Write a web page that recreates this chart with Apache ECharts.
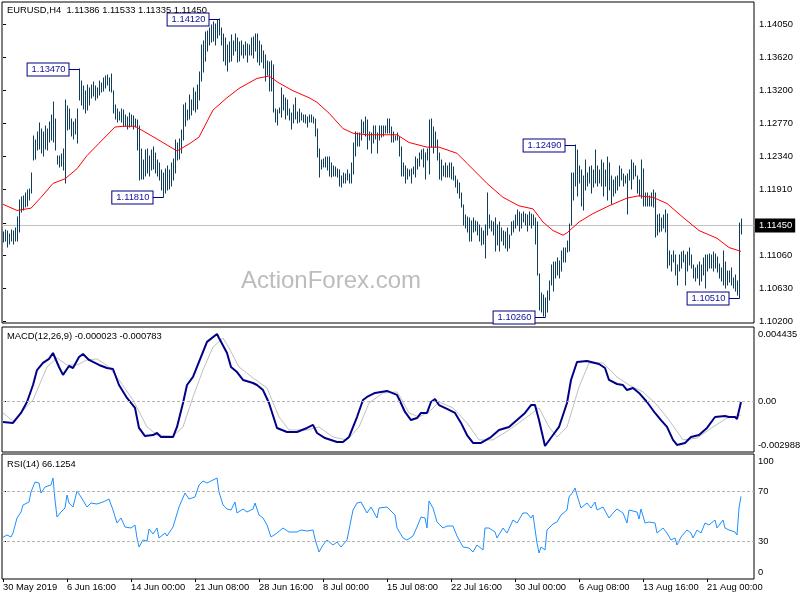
<!DOCTYPE html>
<html><head><meta charset="utf-8">
<script src="https://cdn.jsdelivr.net/npm/echarts@6/dist/echarts.min.js"></script>
<style>html,body{margin:0;padding:0;background:#fff}#c{width:800px;height:600px}</style>
</head><body><div id="c"></div>
<script>
// ---------- DATA ----------
const symbolTitle = 'EURUSD,H4  1.11386 1.11533 1.11335 1.11450';
const macdTitle = 'MACD(12,26,9) -0.000023 -0.000783';
const rsiTitle = 'RSI(14) 66.1254';
const watermark = 'ActionForex.com';
const dateLabels = ['30 May 2019','6 Jun 16:00','14 Jun 00:00','21 Jun 08:00','28 Jun 16:00','8 Jul 00:00','15 Jul 08:00','22 Jul 16:00','30 Jul 00:00','6 Aug 08:00','13 Aug 16:00','21 Aug 00:00'];
const barsPerDateLabel = 32;
const priceTicks = [1.1020,1.1063,1.1106,1.1148,1.1191,1.1234,1.1277,1.1320,1.1362,1.1405];
const priceTickLabelsShown = [1.1020,1.1063,1.1106,1.1191,1.1234,1.1277,1.1320,1.1362,1.1405];
const lastPrice = 1.1145;
const macdRange = [-0.002988, 0.004435];
const rsiTicks = [0,30,70,100];
const rsiLevels = [30,70];
// H4 bar highs / lows
const barHigh = [1.1136,1.1139,1.1138,1.1134,1.1139,1.1137,1.1141,1.1156,1.1178,1.1182,1.1183,1.1187,1.1190,1.1192,1.1213,1.1261,1.1255,1.1265,1.1277,1.1270,1.1265,1.1273,1.1270,1.1278,1.1287,1.1304,1.1283,1.1235,1.1234,1.1237,1.1243,1.1307,1.1299,1.1296,1.1283,1.1278,1.1282,1.1296,1.1347,1.1332,1.1325,1.1319,1.1326,1.1322,1.1326,1.1330,1.1325,1.1322,1.1332,1.1329,1.1335,1.1338,1.1340,1.1335,1.1341,1.1319,1.1300,1.1296,1.1291,1.1296,1.1294,1.1288,1.1285,1.1290,1.1287,1.1286,1.1283,1.1281,1.1273,1.1244,1.1229,1.1242,1.1244,1.1235,1.1242,1.1246,1.1239,1.1229,1.1225,1.1216,1.1213,1.1218,1.1222,1.1216,1.1226,1.1231,1.1255,1.1251,1.1257,1.1268,1.1300,1.1303,1.1294,1.1313,1.1307,1.1322,1.1317,1.1326,1.1343,1.1378,1.1384,1.1395,1.1397,1.1400,1.1404,1.1408,1.1405,1.1410,1.1412,1.1400,1.1393,1.1387,1.1378,1.1382,1.1391,1.1384,1.1392,1.1387,1.1382,1.1384,1.1378,1.1382,1.1379,1.1378,1.1387,1.1389,1.1392,1.1393,1.1384,1.1378,1.1371,1.1365,1.1358,1.1356,1.1358,1.1352,1.1296,1.1294,1.1297,1.1322,1.1313,1.1310,1.1307,1.1296,1.1290,1.1300,1.1310,1.1291,1.1296,1.1290,1.1287,1.1287,1.1285,1.1287,1.1287,1.1285,1.1283,1.1270,1.1244,1.1229,1.1231,1.1233,1.1233,1.1233,1.1225,1.1222,1.1220,1.1218,1.1216,1.1209,1.1213,1.1211,1.1216,1.1211,1.1226,1.1251,1.1265,1.1264,1.1264,1.1281,1.1278,1.1285,1.1281,1.1265,1.1264,1.1274,1.1274,1.1264,1.1274,1.1274,1.1274,1.1274,1.1283,1.1283,1.1272,1.1265,1.1261,1.1264,1.1259,1.1246,1.1225,1.1222,1.1218,1.1216,1.1218,1.1220,1.1233,1.1231,1.1239,1.1242,1.1244,1.1238,1.1244,1.1281,1.1283,1.1272,1.1265,1.1255,1.1239,1.1229,1.1222,1.1225,1.1222,1.1225,1.1225,1.1220,1.1209,1.1203,1.1199,1.1186,1.1171,1.1158,1.1155,1.1154,1.1151,1.1154,1.1151,1.1149,1.1145,1.1141,1.1138,1.1145,1.1187,1.1158,1.1151,1.1149,1.1154,1.1145,1.1149,1.1141,1.1138,1.1136,1.1141,1.1132,1.1149,1.1151,1.1158,1.1164,1.1162,1.1160,1.1162,1.1160,1.1158,1.1162,1.1160,1.1158,1.1154,1.1149,1.1082,1.1057,1.1054,1.1051,1.1060,1.1073,1.1093,1.1097,1.1097,1.1102,1.1099,1.1112,1.1116,1.1115,1.1125,1.1147,1.1213,1.1213,1.1249,1.1242,1.1222,1.1216,1.1209,1.1229,1.1213,1.1220,1.1222,1.1216,1.1242,1.1222,1.1216,1.1229,1.1226,1.1216,1.1233,1.1225,1.1209,1.1203,1.1207,1.1209,1.1222,1.1218,1.1211,1.1209,1.1211,1.1216,1.1229,1.1225,1.1222,1.1209,1.1203,1.1229,1.1218,1.1186,1.1186,1.1183,1.1186,1.1190,1.1186,1.1158,1.1160,1.1154,1.1158,1.1164,1.1160,1.1112,1.1106,1.1112,1.1106,1.1093,1.1106,1.1110,1.1112,1.1106,1.1110,1.1115,1.1106,1.1093,1.1089,1.1093,1.1097,1.1093,1.1102,1.1106,1.1106,1.1108,1.1106,1.1110,1.1108,1.1104,1.1095,1.1089,1.1112,1.1097,1.1086,1.1086,1.1089,1.1077,1.1080,1.1073,1.1148,1.11533];
const barLow = [1.1123,1.1124,1.1117,1.1120,1.1125,1.1121,1.1125,1.1125,1.1136,1.1162,1.1164,1.1169,1.1170,1.1177,1.1187,1.1229,1.1231,1.1242,1.1244,1.1239,1.1235,1.1244,1.1242,1.1252,1.1255,1.1252,1.1242,1.1224,1.1220,1.1221,1.1216,1.1200,1.1268,1.1270,1.1261,1.1257,1.1263,1.1251,1.1307,1.1301,1.1296,1.1290,1.1294,1.1300,1.1309,1.1312,1.1307,1.1309,1.1314,1.1317,1.1319,1.1322,1.1326,1.1319,1.1317,1.1290,1.1283,1.1278,1.1281,1.1278,1.1274,1.1273,1.1270,1.1272,1.1274,1.1270,1.1272,1.1242,1.1203,1.1205,1.1205,1.1209,1.1213,1.1209,1.1216,1.1218,1.1213,1.1209,1.1203,1.1190,1.1181,1.1187,1.1190,1.1192,1.1196,1.1203,1.1213,1.1229,1.1231,1.1239,1.1255,1.1274,1.1281,1.1283,1.1287,1.1294,1.1291,1.1296,1.1307,1.1332,1.1343,1.1358,1.1371,1.1378,1.1382,1.1384,1.1378,1.1387,1.1391,1.1378,1.1358,1.1352,1.1345,1.1356,1.1358,1.1365,1.1371,1.1356,1.1358,1.1365,1.1361,1.1365,1.1356,1.1365,1.1365,1.1361,1.1371,1.1356,1.1352,1.1356,1.1348,1.1332,1.1339,1.1319,1.1319,1.1291,1.1278,1.1275,1.1290,1.1285,1.1294,1.1283,1.1287,1.1281,1.1270,1.1277,1.1283,1.1277,1.1278,1.1281,1.1278,1.1277,1.1272,1.1278,1.1278,1.1277,1.1261,1.1233,1.1207,1.1218,1.1220,1.1220,1.1216,1.1209,1.1207,1.1209,1.1209,1.1207,1.1196,1.1194,1.1200,1.1200,1.1203,1.1200,1.1200,1.1211,1.1235,1.1248,1.1248,1.1255,1.1264,1.1261,1.1244,1.1255,1.1238,1.1251,1.1257,1.1238,1.1255,1.1259,1.1261,1.1264,1.1264,1.1264,1.1252,1.1252,1.1255,1.1255,1.1235,1.1209,1.1209,1.1200,1.1205,1.1209,1.1199,1.1211,1.1207,1.1218,1.1222,1.1231,1.1220,1.1205,1.1229,1.1211,1.1246,1.1238,1.1246,1.1229,1.1205,1.1203,1.1209,1.1207,1.1207,1.1207,1.1205,1.1203,1.1194,1.1187,1.1180,1.1168,1.1145,1.1141,1.1136,1.1125,1.1125,1.1136,1.1138,1.1132,1.1125,1.1119,1.1121,1.1102,1.1132,1.1141,1.1138,1.1132,1.1112,1.1119,1.1112,1.1125,1.1119,1.1115,1.1112,1.1116,1.1132,1.1136,1.1141,1.1145,1.1138,1.1141,1.1149,1.1145,1.1138,1.1145,1.1141,1.1145,1.1121,1.1080,1.1035,1.1032,1.1028,1.1026,1.1032,1.1048,1.1067,1.1060,1.1076,1.1080,1.1076,1.1086,1.1097,1.1097,1.1110,1.1112,1.1145,1.1177,1.1196,1.1183,1.1200,1.1170,1.1164,1.1190,1.1196,1.1199,1.1187,1.1194,1.1200,1.1196,1.1199,1.1196,1.1183,1.1196,1.1177,1.1190,1.1173,1.1183,1.1187,1.1190,1.1196,1.1203,1.1196,1.1200,1.1160,1.1203,1.1192,1.1205,1.1209,1.1186,1.1183,1.1180,1.1170,1.1170,1.1170,1.1170,1.1170,1.1168,1.1129,1.1132,1.1136,1.1138,1.1141,1.1136,1.1090,1.1093,1.1086,1.1097,1.1080,1.1067,1.1086,1.1089,1.1097,1.1067,1.1086,1.1093,1.1089,1.1076,1.1073,1.1076,1.1067,1.1073,1.1080,1.1064,1.1086,1.1089,1.1090,1.1086,1.1089,1.1084,1.1076,1.1073,1.1067,1.1063,1.1067,1.1071,1.1067,1.1063,1.1060,1.1054,1.1051,1.11335];
// moving average (red), [bar index, price]
const maLine = [[0,1.1172],[7,1.1164],[14,1.1167],[19,1.1181],[25,1.1199],[31,1.1205],[37,1.1218],[42,1.1235],[48,1.1251],[56,1.1272],[60,1.1273],[66,1.1273],[72,1.1264],[78,1.1255],[87,1.1241],[93,1.1250],[98,1.1259],[105,1.1294],[112,1.1310],[118,1.1322],[127,1.1335],[133,1.1338],[138,1.1329],[145,1.1319],[153,1.1310],[157,1.1304],[163,1.1290],[170,1.1270],[175,1.1264],[182,1.1262],[192,1.1262],[197,1.1262],[203,1.1252],[212,1.1246],[218,1.1246],[227,1.1238],[232,1.1225],[242,1.1199],[250,1.1181],[258,1.1170],[265,1.1166],[270,1.1149],[275,1.1138],[280,1.1132],[282,1.1135],[288,1.1149],[295,1.1160],[303,1.1170],[312,1.1180],[318,1.1183],[325,1.1181],[332,1.1173],[340,1.1155],[348,1.1138],[357,1.1128],[363,1.1116],[369,1.1111]];
// extreme price labels [bar index, price]
const extremeLabels = [[38,1.1347],[108,1.1412],[80,1.1181],[286,1.1249],[271,1.1026],[368,1.1051]];
// MACD main & signal [bar index, value]
const macdMain = [[0,-0.00121],[5,-0.00126],[9,-0.00067],[12,-0.00002],[15,0.00099],[17,0.00188],[20,0.0023],[23,0.00254],[25,0.00289],[28,0.00206],[30,0.00159],[33,0.00212],[35,0.002],[38,0.00265],[40,0.00283],[43,0.00248],[48,0.00218],[52,0.002],[55,0.00194],[58,0.00099],[62,0.00022],[66,-0.00037],[68,-0.00156],[71,-0.00204],[75,-0.00198],[77,-0.00186],[79,-0.0021],[85,-0.0021],[87,-0.0015],[90,-0.00008],[92,0.00099],[95,0.00147],[98,0.00236],[102,0.00355],[107,0.00402],[108,0.00378],[112,0.00289],[114,0.00206],[117,0.00176],[120,0.00129],[125,0.00111],[127,0.00099],[130,0.00069],[133,-0.00008],[137,-0.00156],[142,-0.0018],[147,-0.0018],[152,-0.00156],[155,-0.00138],[157,-0.00186],[161,-0.00216],[167,-0.00239],[170,-0.00239],[173,-0.0021],[177,-0.00091],[180,0.0001],[182,0.00028],[186,0.00052],[192,0.00064],[197,0.0004],[198,0.00016],[201,-0.00061],[204,-0.00109],[207,-0.00097],[209,-0.00067],[212,-0.00067],[214,-0.00002],[216,0.00016],[218,-0.0002],[222,-0.00043],[226,-0.00067],[229,-0.00126],[232,-0.00198],[235,-0.00245],[239,-0.00245],[244,-0.0021],[248,-0.00168],[253,-0.0015],[257,-0.00109],[261,-0.00067],[264,-0.0002],[266,-0.0002],[268,-0.00109],[271,-0.00263],[275,-0.00198],[278,-0.0015],[282,-0.00008],[284,0.00129],[287,0.00236],[292,0.00242],[293,0.00248],[298,0.00224],[301,0.002],[303,0.00129],[307,0.00105],[310,0.00099],[312,0.00069],[315,0.00081],[318,0.00052],[322,-0.00002],[326,-0.00067],[329,-0.00109],[332,-0.0015],[335,-0.00227],[337,-0.00257],[341,-0.00245],[344,-0.0021],[348,-0.00198],[352,-0.00156],[356,-0.00091],[361,-0.00085],[363,-0.00091],[366,-0.00091],[367,-0.00103],[369,-0.000023]];
const macdSignal = [[0,-0.00067],[5,-0.00115],[15,0.0001],[22,0.00206],[27,0.0026],[32,0.00218],[37,0.00218],[42,0.00248],[47,0.00254],[53,0.00206],[58,0.00129],[65,0.0001],[72,-0.0015],[77,-0.00198],[85,-0.00204],[90,-0.0015],[95,0.00028],[100,0.00188],[105,0.00325],[110,0.00378],[113,0.00319],[118,0.00206],[125,0.00141],[132,0.00081],[138,-0.00091],[143,-0.00168],[152,-0.00168],[158,-0.0015],[165,-0.0021],[172,-0.00227],[178,-0.0015],[183,-0.00008],[190,0.00052],[197,0.00058],[198,0.0004],[203,-0.00067],[208,-0.00091],[213,-0.00061],[218,-0.00002],[225,-0.00037],[232,-0.00126],[238,-0.00227],[245,-0.00227],[253,-0.00168],[262,-0.00091],[268,-0.00037],[273,-0.0015],[277,-0.0021],[282,-0.0015],[288,0.00087],[293,0.0023],[300,0.0023],[307,0.00147],[313,0.00099],[320,0.00058],[327,-0.0002],[333,-0.00109],[340,-0.00227],[347,-0.00216],[355,-0.0015],[362,-0.00097],[367,-0.00085],[369,-0.000783]];
// RSI(14) [bar index, value]
const rsiLine = [[0,33.4],[2,35.2],[4,33.6],[5,36.8],[7,48.8],[9,53.6],[10,59.2],[13,61.6],[14,69.6],[16,77.6],[18,76.8],[19,68.8],[21,73.6],[24,75.2],[25,80.8],[26,63.2],[27,49.6],[29,53.6],[31,56.8],[32,67.2],[33,60.8],[35,57.6],[37,70.4],[39,65.6],[42,57.6],[44,60.8],[47,60],[50,61.6],[53,64],[55,55.2],[57,44.8],[59,48.8],[61,41.6],[64,40.8],[66,43.2],[67,32.8],[68,25.6],[70,31.2],[72,30.4],[73,40],[75,36],[77,40.8],[78,32.8],[81,36.8],[82,34.4],[85,41.6],[88,57.6],[91,68.8],[93,64],[96,65.6],[98,75.2],[100,78.4],[102,76.8],[107,80.8],[108,69.6],[110,59.2],[112,56],[114,55.2],[116,61.6],[117,52.8],[120,56],[122,53.6],[125,56],[126,60.8],[128,51.2],[130,48.8],[132,43.2],[134,33.6],[137,36.8],[140,40.8],[143,37.6],[147,37.6],[149,39.2],[152,38.4],[155,39.2],[156,32],[158,21.6],[160,27.2],[162,31.2],[165,27.2],[167,29.6],[169,25.6],[172,31.2],[173,32.8],[175,55.2],[177,60.8],[179,61.6],[182,52.8],[184,57.6],[187,48.8],[188,56.8],[192,57.6],[196,51.2],[197,40.8],[198,39.2],[200,32.8],[202,31.2],[205,34.4],[207,41.6],[209,49.6],[211,48.8],[212,40.8],[213,62.4],[215,56.8],[217,45.6],[220,40.8],[222,42.4],[225,42.4],[227,34.4],[230,25.6],[233,24.8],[235,21.6],[237,27.2],[240,23.2],[241,40.8],[243,40.8],[246,37.6],[247,32.8],[250,40.8],[252,36.8],[255,47.2],[257,44.8],[260,52.8],[262,52.8],[264,48.8],[265,51.2],[267,28.8],[268,20.8],[269,25.6],[271,23.2],[272,39.2],[275,44],[277,45.6],[279,51.2],[282,55.2],[283,65.6],[285,69.6],[286,72.8],[287,67.2],[289,56.8],[292,60.8],[294,56.8],[296,61.6],[297,55.2],[300,57.6],[303,48.8],[305,52.8],[307,56],[310,52.8],[312,44.8],[313,55.2],[317,53.6],[318,48],[319,56],[321,44.8],[323,45.6],[326,44.8],[327,36.8],[330,40.8],[332,36.8],[334,31.2],[336,32.8],[337,27.2],[339,33.6],[342,39.2],[344,36.8],[345,32.8],[347,39.2],[349,36.8],[351,44.8],[353,43.2],[356,47.2],[357,40.8],[360,47.2],[361,40.8],[363,39.2],[366,37.6],[367,35.2],[368,56.8],[369,66.1254]];

// ---------- STYLE ----------
const FONT = '"Liberation Sans", Arial, sans-serif';
const FS = 9.4;
const barColor = '#0f3d5c';
const xMin = -0.5, xMax = 375.5;
const gridL = 2, gridW = 752;

const chart = echarts.init(document.getElementById('c'), null, {renderer: 'canvas'});

function xAxisFor(gi, showLabels) {
  const ax = {
    type: 'value', gridIndex: gi, min: xMin, max: xMax,
    axisLine: {show: false}, splitLine: {show: false},
    axisTick: {show: false}, axisLabel: {show: false}
  };
  if (showLabels) {
    const vals = dateLabels.map((_, k) => k * barsPerDateLabel);
    ax.axisTick = {show: true, customValues: vals, length: 3, lineStyle: {color: '#000'}};
    ax.axisLabel = {show: true, customValues: vals, align: 'left', margin: 4, color: '#000',
      fontSize: FS, fontFamily: FONT,
      formatter: v => dateLabels[Math.round(v / barsPerDateLabel)] || ''};
  }
  return ax;
}

const edgeRich = {
  t: {padding: [14, 0, 0, 0], fontSize: FS, fontFamily: FONT, color: '#000'},
  b: {padding: [0, 0, 14, 0], fontSize: FS, fontFamily: FONT, color: '#000'},
  z: {fontSize: FS, fontFamily: FONT, color: '#000', textShadowColor: '#000', textShadowOffsetX: 0.8, textShadowBlur: 0},
  z0: {fontSize: FS, fontFamily: FONT, color: '#000'}
};

const gridBase = {left: gridL, width: gridW, show: true, borderColor: '#000', borderWidth: 1, containLabel: false, outerBoundsMode: 'none'};

const option = {
  animation: false,
  backgroundColor: '#fff',
  grid: [
    Object.assign({top: 2, height: 321}, gridBase),
    Object.assign({top: 327, height: 125}, gridBase),
    Object.assign({top: 454, height: 125}, gridBase)
  ],
  xAxis: [xAxisFor(0, false), xAxisFor(1, false), xAxisFor(2, true)],
  yAxis: [
    {type: 'value', gridIndex: 0, position: 'right', min: 1.10183, max: 1.14339,
      axisLine: {show: false}, splitLine: {show: false},
      axisTick: {show: true, customValues: priceTicks, length: 3, lineStyle: {color: '#000'}},
      axisLabel: {show: true, customValues: priceTickLabelsShown, margin: 5, color: '#000', fontSize: FS, fontFamily: FONT,
        formatter: v => v.toFixed(5)}},
    {type: 'value', gridIndex: 1, position: 'right', min: macdRange[0], max: macdRange[1],
      axisLine: {show: false}, splitLine: {show: false},
      axisTick: {show: true, customValues: [0], length: 3, lineStyle: {color: '#000'}},
      axisLabel: {show: true, customValues: [macdRange[0], 0, macdRange[1]], margin: 4, rich: edgeRich,
        formatter: v => Math.abs(v - macdRange[1]) < 1e-9 ? '{t|' + macdRange[1].toFixed(6) + '}'
          : Math.abs(v - macdRange[0]) < 1e-9 ? '{b|' + macdRange[0].toFixed(6) + '}' : '{z|0.00}'}},
    {type: 'value', gridIndex: 2, position: 'right', min: 0, max: 100,
      axisLine: {show: false}, splitLine: {show: false},
      axisTick: {show: true, customValues: rsiLevels, length: 3, lineStyle: {color: '#000'}},
      axisLabel: {show: true, customValues: rsiTicks, margin: 4, rich: edgeRich,
        formatter: v => v === 100 ? '{t|100}' : v === 0 ? '{b|0}' : '{z0|' + v + '}'}}
  ],
  graphic: [
    {type: 'text', x: 241, y: 281, z: 0, silent: true,
      style: {text: watermark, font: '24px ' + FONT, fill: '#bcbcbc', align: 'left', verticalAlign: 'middle'}},
    {type: 'text', x: 7, y: 10, z: 10, silent: true,
      style: {text: symbolTitle, font: FS + 'px ' + FONT, fill: '#000', align: 'left', verticalAlign: 'middle'}},
    {type: 'text', x: 7, y: 336, z: 10, silent: true,
      style: {text: macdTitle, font: FS + 'px ' + FONT, fill: '#000', align: 'left', verticalAlign: 'middle'}},
    {type: 'text', x: 7, y: 464, z: 10, silent: true,
      style: {text: rsiTitle, font: FS + 'px ' + FONT, fill: '#000', align: 'left', verticalAlign: 'middle'}}
  ],
  series: [
    // last price line + box
    {type: 'custom', xAxisIndex: 0, yAxisIndex: 0, z: 1, silent: true, clip: false,
      data: [[0, lastPrice]],
      renderItem: (params, api) => {
        const cs = params.coordSys;
        const p = api.coord([api.value(0), api.value(1)]);
        const y = Math.round(p[1]) + 0.5;
        return {type: 'group', children: [
          {type: 'line', shape: {x1: cs.x, y1: y, x2: cs.x + cs.width, y2: y}, style: {stroke: '#c0c0c0', lineWidth: 1}},
          {type: 'text', x: cs.x + cs.width + 1, y: y, z2: 10, style: {text: api.value(1).toFixed(5), align: 'left', verticalAlign: 'middle',
            fill: '#fff', font: FS + 'px ' + FONT, backgroundColor: '#000', padding: [3, 3, 2, 4]}}
        ]};
      }},
    // OHLC bars (high-low)
    {type: 'custom', xAxisIndex: 0, yAxisIndex: 0, z: 2, silent: true,
      data: barHigh.map((h, i) => [i, barLow[i], h]),
      encode: {x: 0, y: [1, 2]},
      renderItem: (params, api) => {
        const lo = api.coord([api.value(0), api.value(1)]);
        const hi = api.coord([api.value(0), api.value(2)]);
        const x = Math.round(lo[0]) + 0.5;
        return {type: 'line', shape: {x1: x, y1: Math.round(lo[1]) + 0.5, x2: x, y2: Math.round(hi[1]) - 0.5},
          style: {stroke: barColor, lineWidth: 1}};
      }},
    // moving average
    {type: 'line', xAxisIndex: 0, yAxisIndex: 0, z: 3, data: maLine, showSymbol: false, silent: true,
      lineStyle: {color: '#ff0000', width: 1}},
    // extreme labels
    {type: 'custom', xAxisIndex: 0, yAxisIndex: 0, z: 4, silent: true, clip: false, data: extremeLabels,
      renderItem: (params, api) => {
        const p = api.coord([api.value(0), api.value(1)]);
        const x = Math.round(p[0]) + 0.5, y = Math.round(p[1]) + 0.5;
        return {type: 'group', children: [
          {type: 'line', shape: {x1: x - 11, y1: y, x2: x, y2: y}, style: {stroke: '#000080', lineWidth: 1}},
          {type: 'text', x: x - 11, y: y, style: {text: api.value(1).toFixed(5), align: 'right', verticalAlign: 'middle',
            fill: '#10109a', font: FS + 'px ' + FONT, backgroundColor: '#fff', borderColor: '#000080', borderWidth: 1,
            padding: [2, 3, 1, 4]}}
        ]};
      }},
    // MACD
    {type: 'line', xAxisIndex: 1, yAxisIndex: 1, z: 3, data: macdMain, showSymbol: false, silent: true,
      lineStyle: {color: '#000088', width: 2},
      markLine: {silent: true, symbol: ['none', 'none'], animation: false, data: [{yAxis: 0}],
        lineStyle: {color: '#b4b4b4', type: [3, 2], width: 1}, label: {show: false}}},
    {type: 'line', xAxisIndex: 1, yAxisIndex: 1, z: 2, data: macdSignal, showSymbol: false, silent: true,
      lineStyle: {color: '#c0c0c0', width: 1}},
    // RSI
    {type: 'line', xAxisIndex: 2, yAxisIndex: 2, z: 3, data: rsiLine, showSymbol: false, silent: true,
      lineStyle: {color: '#1e90ff', width: 1},
      markLine: {silent: true, symbol: ['none', 'none'], animation: false,
        data: rsiLevels.map(v => ({yAxis: v})),
        lineStyle: {color: '#b4b4b4', type: [3, 2], width: 1}, label: {show: false}}}
  ]
};
chart.setOption(option);
</script>
</body></html>
